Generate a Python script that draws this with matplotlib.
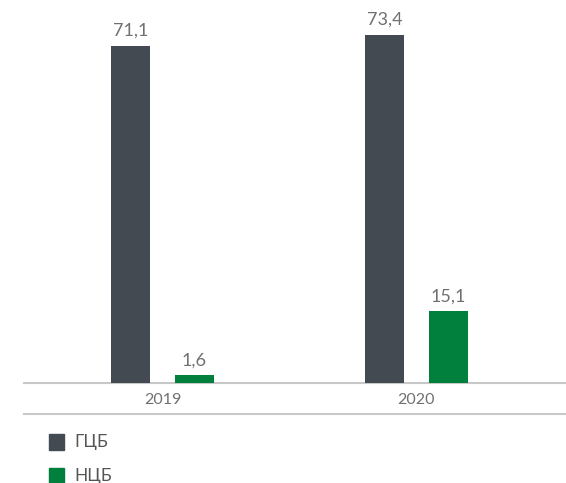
import numpy as np
import matplotlib.pyplot as plt
from matplotlib.patches import Rectangle
from matplotlib.lines import Line2D

years = ['2019', '2020']
gcb = [71.1, 73.4]
ncb = [1.6, 15.1]
series_names = ['ГЦБ', 'НЦБ']
colors = ['#434a52', '#007f3d']

plt.rcParams['font.family'] = ['Lato', 'DejaVu Sans']

fig = plt.figure(figsize=(5.66, 4.83), dpi=100)
ax = fig.add_axes([0, 100 / 483, 1, 383 / 483])

x = np.arange(len(years))
width = 0.1535
offset = 0.126

for vals, dx, col in zip([gcb, ncb], [-offset, offset], colors):
    bars = ax.bar(x + dx, vals, width, color=col, zorder=3)
    for b, v in zip(bars, vals):
        ax.text(b.get_x() + b.get_width() / 2, v + 1.5, f'{v:.1f}'.replace('.', ','),
                ha='center', va='bottom', fontsize=13, color='#707070')

ax.set_xlim(-0.640, 1.589)
ax.set_ylim(0, 80.8)
ax.axis('off')
ax.plot([-0.545, 1.589], [0, 0], color='#c8c8c8', lw=1.5, clip_on=False)

# year labels below the baseline
for xi, yr in zip(x, years):
    ax.annotate(yr, (xi, 0), xytext=(0, -12), textcoords='offset points',
                ha='center', va='center', fontsize=11.5, color='#707070')

# second separator line under the year labels
fig.add_artist(Line2D([24 / 566, 1], [1 - 414 / 483] * 2, color='#c8c8c8', lw=1.5))

# legend
for i, (name, col) in enumerate(zip(series_names, colors)):
    yc = 1 - (442 + 34 * i) / 483
    fig.add_artist(Rectangle((49 / 566, yc - 8 / 483), 15 / 566, 16 / 483,
                             color=col, transform=fig.transFigure))
    fig.text(74 / 566, yc, name, va='center', ha='left', fontsize=12.5, color='#555555')

fig.savefig('out.png', dpi=100)
